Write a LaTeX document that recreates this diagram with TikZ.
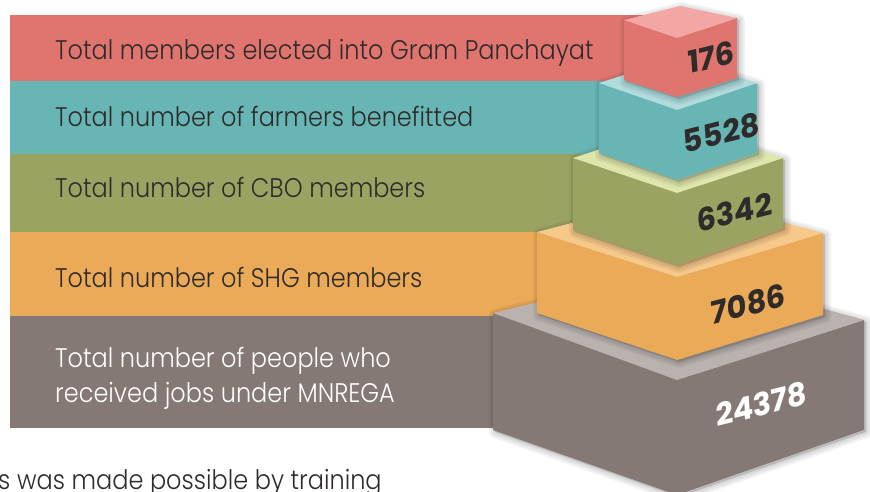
\documentclass[tikz,border=0pt]{standalone}
\usepackage{fontspec}
\setmainfont{Poppins}
\newfontfamily\labelfont{Poppins}[UprightFont=* Light]
\usetikzlibrary{positioning}

\definecolor{redbar}{HTML}{E07570}
\definecolor{redtop}{HTML}{F2A7A5}
\definecolor{tealbar}{HTML}{68B5B6}
\definecolor{tealtop}{HTML}{B0DCDE}
\definecolor{olivebar}{HTML}{9BA363}
\definecolor{olivetop}{HTML}{DFE6AC}
\definecolor{orangebar}{HTML}{EAAA57}
\definecolor{orangetop}{HTML}{F6C98B}
\definecolor{graybar}{HTML}{857975}
\definecolor{graytop}{HTML}{BAB2AF}
\definecolor{inktext}{HTML}{2E2B2A}

% one tier of the stack: L, B, R, F of the top face, then R', F', L' at the foot
\newcommand{\tierblock}[9]{%
  \foreach \s in {12,8,4}
    \fill[black, opacity=0.05, line join=round, draw=black, line width=\s pt]
      ([shift={(2,2)}]#1) -- ([shift={(2,2)}]#2) -- ([shift={(2,2)}]#3)
      -- ([shift={(2,2)}]#6) -- ([shift={(2,2)}]#7) -- ([shift={(2,2)}]#8) -- cycle;
  \fill[#9] (#1) -- (#4) -- (#3) -- (#6) -- (#7) -- (#8) -- cycle;
  \fill[#5] (#1) -- (#2) -- (#3) -- (#4) -- cycle;
}

\begin{document}
\begin{tikzpicture}[x=1pt, y=-1pt]
\tikzstyle{tierlabel}=[anchor=base west, inner sep=0, text=inktext, yscale=1.12,
  font=\labelfont\fontsize{24}{28}\selectfont]
\tikzstyle{tiernum}=[inner sep=0, rotate=14, text=inktext,
  font=\bfseries\itshape\fontsize{31}{31}\selectfont]
\useasboundingbox (0,0) rectangle (870,492);
\clip (0,0) rectangle (870,492);

% bars
\fill[redbar]    (10,15)  rectangle (700,81);
\fill[tealbar]   (10,81)  rectangle (700,154);
\fill[olivebar]  (10,154) rectangle (700,232);
\fill[orangebar] (10,232) rectangle (700,316);
\fill[graybar]   (10,316) rectangle (700,428);

% stacked blocks, bottom up
\tierblock{493,313}{677,268}{864,320}{677,380}{graytop}{864,430}{677,495}{493,430}{graybar}
\tierblock{537,232}{679,195}{823,233}{677,277}{orangetop}{823,315}{677,360}{537,313}{orangebar}
\tierblock{573,158}{677,124}{783,158}{677,193}{olivetop}{783,228}{677,265}{573,230}{olivebar}
\tierblock{599,83}{677,58}{757,83}{677,110}{tealtop}{757,153}{677,180}{599,153}{tealbar}
\tierblock{624,20}{680,6}{737,18}{677,38}{redtop}{737,78}{677,97}{624,80}{redbar}

% labels
\node[tierlabel] (lblgp)  at (55,60)  {Total members elected into Gram Panchayat};
\node[tierlabel] (lblfarm) at (55,127) {Total number of farmers benefitted};
\node[tierlabel] (lblcbo) at (55,197) {Total number of CBO members};
\node[tierlabel] (lblshg) at (55,287) {Total number of SHG members};
\node[tierlabel, text=white] (lbljobs) at (55,367) {Total number of people who};
\node[tierlabel, text=white] (lbljobsb) at (55,402) {received jobs under MNREGA};

% figures
\node[tiernum] (numgp)   at (711,57)  {176};
\node[tiernum] (numfarm) at (721,133) {5528};
\node[tiernum] (numcbo)  at (734,212) {6342};
\node[tiernum] (numshg)  at (748,304) {7086};
\node[tiernum, text=white] (numjobs) at (761,404) {24378};

\node[tierlabel] (caption) at (-2,489) {s was made possible by training};
\end{tikzpicture}
\end{document}
